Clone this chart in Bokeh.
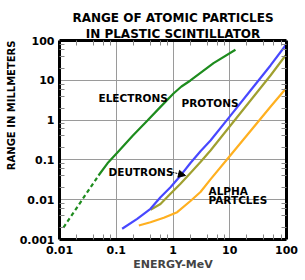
import math
from bokeh.plotting import figure
from bokeh.models import (FixedTicker, LogAxis, Label, Arrow, NormalHead,
                          Range1d, Title, CustomJSTickFormatter)
from bokeh.embed import file_html
from bokeh.resources import INLINE

# ---------------- data (energy MeV, range mm) ----------------
electron_dash_E = [0.01175, 0.0239, 0.0487]
electron_dash_R = [0.0020, 0.0090, 0.0405]
electron_E = [0.0487, 0.0701, 0.105, 0.193, 0.355, 0.602, 1.02, 1.41, 2.03, 5.18, 12.6]
electron_R = [0.0405, 0.0822, 0.153, 0.399, 0.977, 2.15, 4.66, 7.0, 9.89, 27.0, 58.4]

proton_E = [0.127, 0.234, 0.401, 0.602, 0.903, 1.355, 2.03, 3.05, 4.58, 10.3, 23.2, 52.2, 96.0]
proton_R = [0.00186, 0.00331, 0.0059, 0.01156, 0.0206, 0.0401, 0.0836, 0.165, 0.307, 1.30, 5.55, 23.6, 74.8]

deuteron_E = [0.401, 0.602, 0.903, 1.355, 2.03, 3.05, 4.58, 10.3, 23.2, 52.2, 96.0]
deuteron_R = [0.00557, 0.00783, 0.01406, 0.0251, 0.0469, 0.0881, 0.172, 0.731, 3.10, 13.2, 42.0]

alpha_E = [0.25, 0.401, 0.689, 1.186, 2.03, 3.05, 4.58, 10.3, 23.2, 52.2, 96.0]
alpha_R = [0.00225, 0.00272, 0.00351, 0.00485, 0.00927, 0.0156, 0.0324, 0.131, 0.532, 2.16, 6.05]

x_major = [0.01, 0.1, 1, 10, 100]
x_tick_labels = ["0.01", "0.1", "1", "10", "100"]
y_major = [0.001, 0.01, 0.1, 1, 10, 100]
y_tick_labels = ["0.001", "0.01", "0.1", "1", "10", "100"]

title_lines = ["RANGE OF ATOMIC PARTICLES", "IN PLASTIC SCINTILLATOR"]
x_title = "ENERGY-MeV"
y_title = "RANGE IN MILLMETERS"

# ---------------- figure ----------------
W, H = 305, 280
FL, FR, FT, FB = 59, 19, 40, 41
p = figure(width=W, height=H, x_axis_type="log", y_axis_type="log",
           x_range=Range1d(0.01, 100), y_range=Range1d(0.001, 100),
           output_backend="svg", toolbar_location=None,
           min_border_left=FL, min_border_right=FR,
           min_border_top=FT, min_border_bottom=FB,
           background_fill_color="white", border_fill_color="white")
p.outline_line_color = None

def minors(majors):
    out = []
    for m in majors[:-1]:
        for k in (2, 4, 6, 8):
            out.append(m * k)
    return out

xt = FixedTicker(ticks=x_major, minor_ticks=minors(x_major))
yt = FixedTicker(ticks=y_major, minor_ticks=minors(y_major))

FONT = "DejaVu Sans"
FMT_CODE = """
for (let i = 0; i < vals.length; i++) {
  if (Math.abs(Math.log10(tick) - Math.log10(vals[i])) < 1e-6) return labs[i];
}
return '';
"""

def style_axis(ax, labels=True):
    ax.axis_line_width = 3
    ax.axis_line_color = "black"
    ax.major_tick_in = 0
    ax.major_tick_out = 0
    ax.minor_tick_in = 5
    ax.minor_tick_out = 0
    ax.minor_tick_line_color = "#888888"
    ax.minor_tick_line_width = 1
    ax.major_label_text_font = FONT
    ax.major_label_text_font_style = "bold"
    ax.major_label_text_font_size = "11px" if labels else "1px"
    ax.major_label_text_color = "black" if labels else None

xa = p.xaxis[0]
xa.ticker = xt
xa.formatter = CustomJSTickFormatter(args=dict(vals=x_major, labs=x_tick_labels), code=FMT_CODE)
style_axis(xa)
xa.major_label_standoff = 6
xa.axis_label = x_title
xa.axis_label_text_font = FONT
xa.axis_label_text_font_style = "bold"
xa.axis_label_text_font_size = "11px"
xa.axis_label_standoff = 1

ya = p.yaxis[0]
ya.ticker = yt
ya.formatter = CustomJSTickFormatter(args=dict(vals=y_major, labs=y_tick_labels), code=FMT_CODE)
style_axis(ya)
ya.major_label_standoff = 5

top = LogAxis(ticker=FixedTicker(ticks=x_major, minor_ticks=minors(x_major)))
style_axis(top, labels=False)
top.major_label_standoff = 0
p.add_layout(top, "above")
right = LogAxis(ticker=FixedTicker(ticks=y_major, minor_ticks=minors(y_major)))
style_axis(right, labels=False)
right.major_label_standoff = 0
p.add_layout(right, "right")

p.xgrid[0].ticker = xt
p.ygrid[0].ticker = yt
for g in (p.xgrid[0], p.ygrid[0]):
    g.grid_line_color = "#9a9a9a"
    g.grid_line_width = 1

# ---------------- titles ----------------
HAS_STANDOFF = "standoff" in Title.properties()

def make_title(text, size, **extra):
    kw = dict(text=text, text_font=FONT, text_font_style="bold",
              text_font_size=size, text_color="black")
    if HAS_STANDOFF:
        kw["standoff"] = 0
    kw.update(extra)
    return Title(**kw)

p.add_layout(make_title(title_lines[1], "12px", align="center"), "above")
p.add_layout(make_title(title_lines[0], "12px", align="center"), "above")
p.add_layout(make_title(y_title, "10px", align="right", offset=0,
                        vertical_align="bottom"), "left")

# ---------------- curves ----------------
LW = 2.2
GREEN, BLUE, OLIVE, GOLD = "#1e8c1e", "#4848ff", "#a0a030", "#ffb020"
p.line(electron_dash_E, electron_dash_R, color=GREEN, line_width=LW, line_dash="4 3")
p.line(electron_E, electron_R, color=GREEN, line_width=LW)
p.line(alpha_E, alpha_R, color=GOLD, line_width=LW)
p.line(deuteron_E, deuteron_R, color=OLIVE, line_width=LW)
p.line(proton_E, proton_R, color=BLUE, line_width=LW)

# ---------------- in-plot labels ----------------
def px_to_x(px):
    return 10 ** (-2 + (px - FL) / ((W - FL - FR) / 4.0))

def py_to_y(py):
    return 10 ** (2 - (py - FT) / ((H - FT - FB) / 5.0))

def lab(text, px, py, size="10.5px", align="left"):
    p.add_layout(Label(x=px_to_x(px), y=py_to_y(py), text=text,
                       text_font=FONT, text_font_style="bold",
                       text_font_size=size, text_color="black",
                       text_align=align, text_baseline="middle"))

lab("ELECTRONS", 98, 97)
lab("PROTONS", 181, 102)
lab("DEUTRONS", 108, 171)
lab("ALPHA", 208, 190)
lab("PARTCLES", 208, 199)

p.add_layout(Arrow(x_start=px_to_x(169), y_start=py_to_y(171),
                   x_end=px_to_x(185), y_end=py_to_y(175),
                   line_color="black", line_width=1, line_dash="2 1",
                   end=NormalHead(size=7, fill_color="black", line_color="black")))

open("out.html", "w").write(file_html(p, INLINE))
